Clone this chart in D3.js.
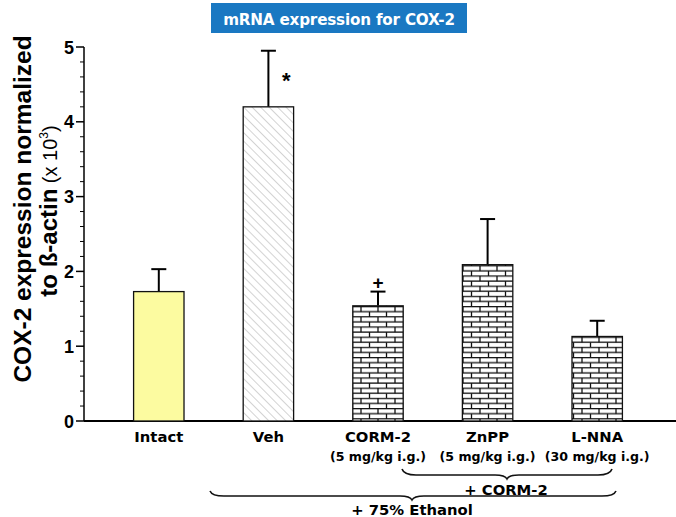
<!DOCTYPE html>
<html><head><meta charset="utf-8">
<script src="https://cdn.jsdelivr.net/npm/d3@7"></script>
<style>body{margin:0;background:#fff}svg{display:block}</style>
</head><body>
<svg id="c" width="676" height="517"></svg>
<script>
const categories = ["Intact","Veh","CORM-2","ZnPP","L-NNA"];
const subLabels = ["","","(5 mg/kg i.g.)","(5 mg/kg i.g.)","(30 mg/kg i.g.)"];
const means = [1.73, 4.20, 1.54, 2.09, 1.13];
const errors = [0.30, 0.75, 0.19, 0.61, 0.21];
const fills = ["yellow","hatch","brick","brick","brick"];
const marks = ["","*","+","",""];
const yTicks = [0,1,2,3,4,5];

const svg = d3.select("#c");
const axX=84, y0px=421, y5px=47;
const y = d3.scaleLinear().domain([0,5]).range([y0px,y5px]);
const x = d3.scaleBand().domain(categories).range([104,652]).paddingInner(0.54).paddingOuter(0.27);

const defs = svg.append("defs");
const hp = defs.append("pattern").attr("id","hatch").attr("patternUnits","userSpaceOnUse").attr("width",6).attr("height",6).attr("patternTransform","rotate(-45)");
hp.append("rect").attr("width",6).attr("height",6).attr("fill","#fff");
hp.append("line").attr("x1",0).attr("y1",0).attr("x2",0).attr("y2",6).attr("stroke","#a8a8a8").attr("stroke-width",1);
const bp = defs.append("pattern").attr("id","brick").attr("patternUnits","userSpaceOnUse").attr("width",17).attr("height",10.2).attr("y",0);
bp.append("rect").attr("width",17).attr("height",10.2).attr("fill","#fff");
function bl(a,b,c,d){bp.append("line").attr("x1",a).attr("y1",b).attr("x2",c).attr("y2",d).attr("stroke","#111").attr("stroke-width",1.3);}
bl(0,0.6,17,0.6); bl(0,5.7,17,5.7);
bl(4,0.6,4,5.7); bl(12.5,5.7,12.5,10.2);

// title
svg.append("rect").attr("x",211).attr("y",3).attr("width",256).attr("height",30).attr("fill","#1a78c2");
svg.append("text").attr("x",339).attr("y",24.5).attr("text-anchor","middle").attr("fill","#fff")
 .attr("font-family","DejaVu Sans").attr("font-weight","bold").attr("font-size",15.2).attr("letter-spacing",-0.2).text("mRNA expression for COX-2");

// y axis
const g = svg.append("g");
g.append("line").attr("x1",axX).attr("x2",axX).attr("y1",y(5)).attr("y2",y(0)).attr("stroke","#000").attr("stroke-width",1.5);
d3.range(0,5.01,0.2).forEach(v=>{
  const major = Math.abs(v-Math.round(v))<1e-6;
  g.append("line").attr("x1",axX-(major?8:4)).attr("x2",axX).attr("y1",y(v)).attr("y2",y(v)).attr("stroke","#000").attr("stroke-width",major?1.5:1);
});
yTicks.forEach(v=>{
  g.append("text").attr("x",74).attr("y",y(v)+6.5).attr("text-anchor","end").attr("font-family","Liberation Sans").attr("font-weight","bold").attr("font-size",18).text(v);
});
svg.append("line").attr("x1",axX).attr("x2",676).attr("y1",y0px).attr("y2",y0px).attr("stroke","#000").attr("stroke-width",2);

// y label
svg.append("text").attr("transform","translate(31,209) rotate(-90)").attr("text-anchor","middle")
 .attr("font-family","Liberation Sans").attr("font-weight","bold").attr("font-size",24.5).text("COX-2 expression normalized");
const yl2 = svg.append("text").attr("transform","translate(57,211) rotate(-90)").attr("text-anchor","middle")
 .attr("font-family","Liberation Sans").attr("font-weight","bold").attr("font-size",24);
yl2.append("tspan").text("to ß-actin");
yl2.append("tspan").attr("font-weight","normal").attr("font-size",20).text(" (x 10");
yl2.append("tspan").attr("font-weight","normal").attr("font-size",12).attr("dy",-9).text("3");
yl2.append("tspan").attr("font-weight","normal").attr("font-size",20).attr("dy",9).text(")");

// bars
categories.forEach((c,i)=>{
  const bx = x(c), bw = x.bandwidth(), cx = bx+bw/2;
  const top = y(means[i]), etop = y(means[i]+errors[i]);
  svg.append("line").attr("x1",cx).attr("x2",cx).attr("y1",top).attr("y2",etop).attr("stroke","#000").attr("stroke-width",2);
  svg.append("line").attr("x1",cx-7.5).attr("x2",cx+7.5).attr("y1",etop).attr("y2",etop).attr("stroke","#000").attr("stroke-width",2);
  const f = fills[i]==="yellow"?"#fcfba0":"url(#"+fills[i]+")";
  svg.append("rect").attr("x",bx).attr("y",top).attr("width",bw).attr("height",y0px-top).attr("fill",f).attr("stroke","#111").attr("stroke-width",1.3);
  svg.append("text").attr("x",cx).attr("y",442).attr("text-anchor","middle").attr("font-family","DejaVu Sans").attr("font-weight","bold").attr("font-size",14.8).text(c);
  if(subLabels[i]) svg.append("text").attr("x",cx).attr("y",461).attr("text-anchor","middle").attr("font-family","DejaVu Sans").attr("font-weight","bold").attr("font-size",12.6).text(subLabels[i]);
});
svg.append("text").attr("x",x("Veh")+x.bandwidth()/2+18).attr("y",y(means[1]+errors[1])+37).attr("text-anchor","middle").attr("font-family","Liberation Sans").attr("font-weight","bold").attr("font-size",22).text(marks[1]);
svg.append("text").attr("x",x("CORM-2")+x.bandwidth()/2).attr("y",y(means[2]+errors[2])-3).attr("text-anchor","middle").attr("font-family","Liberation Sans").attr("font-weight","bold").attr("font-size",19).text(marks[2]);

// braces
function brace(x1,x2,yt,tip,h){
  const xm = tip;
  const p = `M${x1},${yt} Q${x1+2},${yt+h} ${x1+14},${yt+h} L${xm-12},${yt+h} Q${xm-2},${yt+h} ${xm},${yt+h+4} Q${xm+2},${yt+h} ${xm+12},${yt+h} L${x2-14},${yt+h} Q${x2-2},${yt+h} ${x2},${yt}`;
  svg.append("path").attr("d",p).attr("fill","none").attr("stroke","#111").attr("stroke-width",1.6);
}
brace(402,612,469,507,6);
brace(210,616,491,412,5);
svg.append("text").attr("x",506).attr("y",495).attr("text-anchor","middle").attr("font-family","DejaVu Sans").attr("font-weight","bold").attr("font-size",14.8).text("+ CORM-2");
svg.append("text").attr("x",412).attr("y",515).attr("text-anchor","middle").attr("font-family","DejaVu Sans").attr("font-weight","bold").attr("font-size",14.8).text("+ 75% Ethanol");
</script>
</body></html>
